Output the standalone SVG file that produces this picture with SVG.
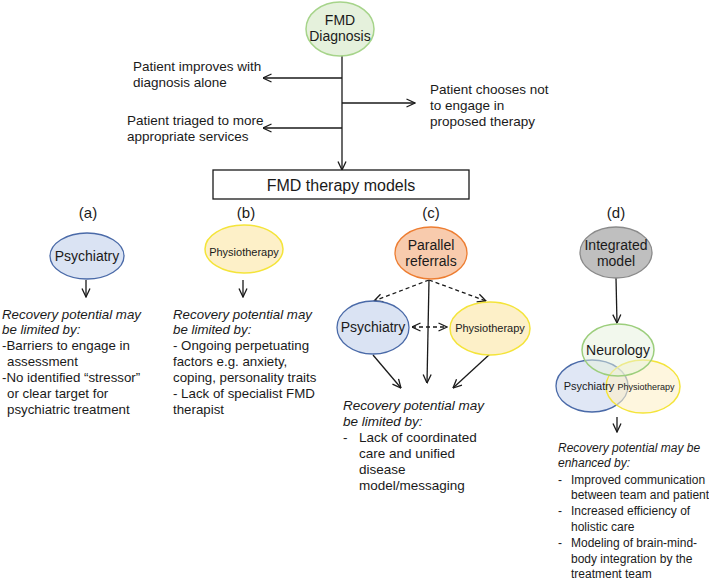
<svg xmlns="http://www.w3.org/2000/svg" width="709" height="580" viewBox="0 0 709 580">
<defs>
<style>
text{font-family:"Liberation Sans",Arial,sans-serif;fill:#1a1a1a}
.t{font-size:13.5px}
.b{font-size:13.3px}
.d{font-size:12px}
.i{font-style:italic}
.n{font-size:14px;text-anchor:middle}
.lbl{font-size:15px;text-anchor:middle}
.ln{stroke:#1a1a1a;stroke-width:1.3;fill:none}
.dash{stroke-dasharray:4 3}
.psy{fill:#dae3f3;stroke:#4a6aa8;stroke-width:1.3}
.phy{fill:#fdf0c8;stroke:#f4e43a;stroke-width:1.5}
</style>
<marker id="ah" viewBox="0 0 10 10" refX="9.5" refY="5" markerWidth="10" markerHeight="10" markerUnits="userSpaceOnUse" orient="auto-start-reverse">
<path d="M1,1 L9.5,5 L1,9" fill="none" stroke="#1a1a1a" stroke-width="1.3"/>
</marker>
</defs>
<rect width="709" height="580" fill="#ffffff"/>

<g id="connectors">
<line class="ln" x1="342" y1="55" x2="342" y2="170" marker-end="url(#ah)"/>
<line class="ln" x1="342" y1="78" x2="263" y2="78" marker-end="url(#ah)"/>
<line class="ln" x1="342" y1="103" x2="415" y2="103" marker-end="url(#ah)"/>
<line class="ln" x1="342" y1="128" x2="263" y2="128" marker-end="url(#ah)"/>
<line class="ln" x1="86" y1="280" x2="86" y2="297" marker-end="url(#ah)"/>
<line class="ln" x1="243" y1="280" x2="243" y2="297" marker-end="url(#ah)"/>
<line class="ln dash" x1="429" y1="280" x2="374" y2="301" marker-end="url(#ah)"/>
<line class="ln dash" x1="429" y1="280" x2="486" y2="301" marker-end="url(#ah)"/>
<line class="ln" x1="429" y1="280" x2="427" y2="383" marker-end="url(#ah)"/>
<line class="ln dash" x1="412" y1="327" x2="447" y2="327" marker-start="url(#ah)" marker-end="url(#ah)"/>
<line class="ln" x1="373" y1="355" x2="401" y2="388" marker-end="url(#ah)"/>
<line class="ln" x1="490" y1="354" x2="453" y2="388" marker-end="url(#ah)"/>
<line class="ln" x1="616" y1="278" x2="617" y2="323" marker-end="url(#ah)"/>
<line class="ln" x1="617" y1="417" x2="617" y2="432" marker-end="url(#ah)"/>
</g>

<g id="fmd-diagnosis">
<ellipse cx="340" cy="29" rx="34" ry="27" fill="#e5f1dc" stroke="#a6d48a" stroke-width="1.5"/>
<text class="n" x="340" y="25">FMD</text>
<text class="n" x="340" y="41">Diagnosis</text>
</g>

<g id="outcome-improves">
<text class="t" x="133" y="71">Patient improves with</text>
<text class="t" x="133" y="87">diagnosis alone</text>
</g>
<g id="outcome-chooses">
<text class="t" x="430" y="94">Patient chooses not</text>
<text class="t" x="430" y="110">to engage in</text>
<text class="t" x="430" y="126">proposed therapy</text>
</g>
<g id="outcome-triaged">
<text class="t" x="127" y="125">Patient triaged to more</text>
<text class="t" x="127" y="141">appropriate services</text>
</g>

<g id="therapy-models">
<rect x="213" y="170" width="256" height="29" fill="#ffffff" stroke="#1a1a1a" stroke-width="1.3"/>
<text x="341" y="191" font-size="16" text-anchor="middle">FMD therapy models</text>
</g>

<g id="labels">
<text class="lbl" x="88" y="218">(a)</text>
<text class="lbl" x="246" y="218">(b)</text>
<text class="lbl" x="431" y="218">(c)</text>
<text class="lbl" x="616" y="218">(d)</text>
</g>

<g id="a-psychiatry">
<ellipse class="psy" cx="87" cy="256" rx="37" ry="23"/>
<text class="n" x="87" y="261">Psychiatry</text>
</g>
<g id="a-text">
<text class="b i" x="2" y="319">Recovery potential may</text>
<text class="b i" x="2" y="334">be limited by:</text>
<text class="b" x="2" y="350">-Barriers to engage in</text>
<text class="b" x="7" y="366">assessment</text>
<text class="b" x="2" y="382">-No identified “stressor”</text>
<text class="b" x="7" y="398">or clear target for</text>
<text class="b" x="7" y="414">psychiatric treatment</text>
</g>

<g id="b-physiotherapy">
<ellipse class="phy" cx="244" cy="249" rx="39" ry="24"/>
<text x="244" y="256" font-size="11" text-anchor="middle">Physiotherapy</text>
</g>
<g id="b-text">
<text class="b i" x="173" y="319">Recovery potential may</text>
<text class="b i" x="173" y="334">be limited by:</text>
<text class="b" x="173" y="350">- Ongoing perpetuating</text>
<text class="b" x="173" y="366">factors e.g. anxiety,</text>
<text class="b" x="173" y="382">coping, personality traits</text>
<text class="b" x="173" y="398">- Lack of specialist FMD</text>
<text class="b" x="173" y="414">therapist</text>
</g>

<g id="c-parallel">
<ellipse cx="431" cy="253" rx="36" ry="26" fill="#f8cbad" stroke="#ed7d31" stroke-width="1.3"/>
<text class="n" x="431" y="250">Parallel</text>
<text class="n" x="431" y="266">referrals</text>
</g>
<g id="c-psychiatry">
<ellipse class="psy" cx="373" cy="327.5" rx="36" ry="26.5"/>
<text class="n" x="373" y="332">Psychiatry</text>
</g>
<g id="c-physiotherapy">
<ellipse class="phy" cx="490" cy="328.5" rx="40" ry="26.5"/>
<text x="490" y="332" font-size="11" text-anchor="middle">Physiotherapy</text>
</g>
<g id="c-text">
<text class="t i" x="343" y="410">Recovery potential may</text>
<text class="t i" x="343" y="426">be limited by:</text>
<text class="t" x="343" y="442">-</text>
<text class="t" x="359" y="442">Lack of coordinated</text>
<text class="t" x="359" y="458">care and unified</text>
<text class="t" x="359" y="474">disease</text>
<text class="t" x="359" y="490">model/messaging</text>
</g>

<g id="d-integrated">
<ellipse cx="616" cy="252.5" rx="36" ry="25.5" fill="#bfbfbf" stroke="#8a8a8a" stroke-width="1.3"/>
<text class="n" x="616" y="250">Integrated</text>
<text class="n" x="616" y="266">model</text>
</g>
<g id="d-team">
<ellipse cx="592" cy="386" rx="36" ry="26" fill="#dae3f3" fill-opacity="0.85" stroke="#4a6aa8" stroke-width="1.3"/>
<ellipse cx="643" cy="386.5" rx="37" ry="26.5" fill="#fdf0c8" fill-opacity="0.6" stroke="#f4e43a" stroke-width="1.5"/>
<ellipse cx="618" cy="350" rx="36" ry="26" fill="#e5f1dc" fill-opacity="0.5" stroke="#9cce7c" stroke-width="1.5"/>
<text class="n" x="618" y="355">Neurology</text>
<text x="589" y="390" font-size="11" text-anchor="middle">Psychiatry</text>
<text x="646" y="390" font-size="9" text-anchor="middle">Physiotherapy</text>
</g>
<g id="d-text">
<text class="d i" x="558" y="452">Recovery potential may be</text>
<text class="d i" x="558" y="467">enhanced by:</text>
<text class="d" x="558" y="484">-</text>
<text class="d" x="571" y="484">Improved communication</text>
<text class="d" x="571" y="499">between team and patient</text>
<text class="d" x="558" y="515">-</text>
<text class="d" x="571" y="515">Increased efficiency  of</text>
<text class="d" x="571" y="531">holistic care</text>
<text class="d" x="558" y="547">-</text>
<text class="d" x="571" y="547">Modeling of brain-mind-</text>
<text class="d" x="571" y="563">body integration by the</text>
<text class="d" x="571" y="578">treatment team</text>
</g>
</svg>
